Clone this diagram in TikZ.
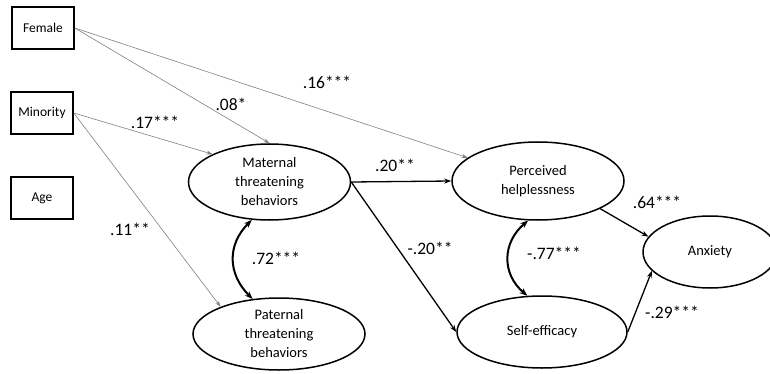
\documentclass[tikz,border=0pt]{standalone}
\usepackage{fontspec}
\setmainfont{Carlito}
\usetikzlibrary{arrows.meta,shapes.geometric}

\begin{document}
\begin{tikzpicture}[x=1pt,y=-1pt,
  cv/.style={draw,line width=1.5pt,minimum width=62pt,minimum height=42pt,inner sep=0pt,font=\fontsize{13.5}{16}\selectfont},
  lv/.style={draw,ellipse,line width=1.5pt,inner sep=0pt,align=center,font=\fontsize{14.5}{19}\selectfont},
  lab/.style={font=\fontsize{17.5}{20}\selectfont,inner sep=0pt},
  ctl/.style={draw=black!50,line width=0.6pt,-{Stealth[length=6pt,width=4pt]}},
  pth/.style={line width=1.3pt,-{Stealth[length=7pt,width=5pt]}},
  cor/.style={line width=2pt,{Stealth[length=8pt,width=6pt]}-{Stealth[length=8pt,width=6pt]}}]
\useasboundingbox (0,0) rectangle (770,374);
\node[cv] (fe) at (43,28) {Female};
\node[cv] (mi) at (42,113) {Minority};
\node[cv] (ag) at (42,198) {Age};
\node[lv,minimum width=162pt,minimum height=76pt] (mt) at (269.5,182) {Maternal\\threatening\\behaviors};
\node[lv,minimum width=172pt,minimum height=72pt] (pt) at (279,334) {Paternal\\threatening\\behaviors};
\node[lv,minimum width=172pt,minimum height=78pt] (pc) at (538,181) {Perceived\\helplessness};
\node[lv,minimum width=170pt,minimum height=72pt] (se) at (542,332) {Self-efficacy};
\node[lv,minimum width=134pt,minimum height=72pt] (ax) at (710,252) {Anxiety};
% covariates
\draw[ctl] (fe.east)--(mt.north);
\draw[ctl] (fe.east)--(pc);
\draw[ctl] (mi.east)--(mt.154);
\draw[ctl] (mi.east)--(pt.155);
% structural paths
\draw[pth] (mt.east)--(pc.west);
\draw[pth] (mt.east)--(se.west);
\draw[pth] (pc.-24)--(ax.166);
\draw[pth] (se.east)--(ax.198);
% correlations
\draw[cor] (mt.245) .. controls +(-25,25) and +(-25,-25) .. (pt.127);
\draw[cor] (pc.256) .. controls +(-26,22) and +(-26,-22) .. (se.112);
% coefficients
\node[lab] (l1) at (231,104) {.08*};
\node[lab] (l2) at (327,82) {.16***};
\node[lab] (l3) at (155,122) {.17***};
\node[lab] (l4) at (130,229) {.11**};
\node[lab] (l5) at (395,165) {.20**};
\node[lab] (l6) at (430,248) {-.20**};
\node[lab] (l7) at (276,258) {.72***};
\node[lab] (l8) at (554,253) {-.77***};
\node[lab] (l9) at (657,202) {.64***};
\node[lab] (l10) at (672,312) {-.29***};
\end{tikzpicture}
\end{document}
